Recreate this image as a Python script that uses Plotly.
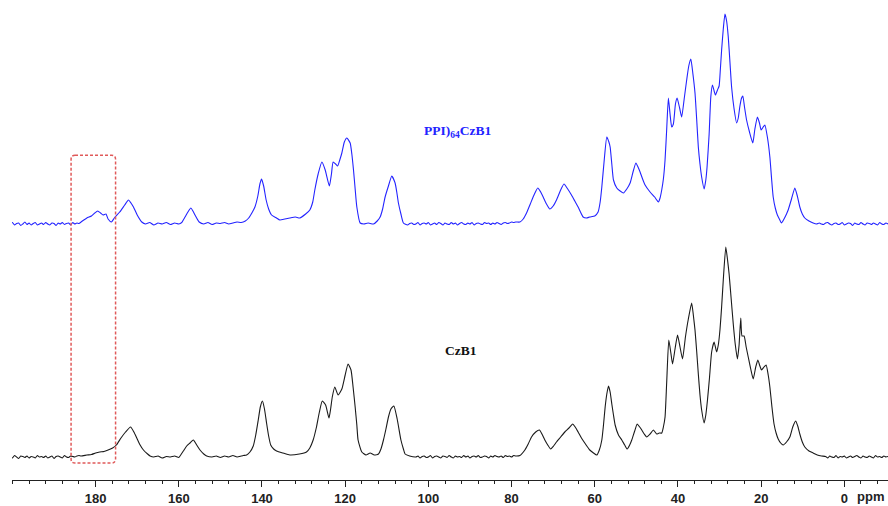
import plotly.graph_objects as go

# ---------------- data (chemical shift in ppm, intensity in arbitrary units) ----------------
ppm_ppi = [
    200.5, 200.0, 199.5, 199.0, 198.5, 198.0, 197.5, 197.0, 196.5, 196.0, 195.5, 195.0, 194.5, 194.0, 193.5, 193.0, 192.5, 192.0,
    191.5, 191.0, 190.5, 190.0, 189.5, 189.0, 188.5, 188.0, 187.5, 187.0, 186.5, 186.0, 185.5, 185.0, 184.5, 184.0, 183.5,
    182.1, 181.0, 180.2, 179.5, 178.8, 178.2, 177.5, 177.0, 176.2, 175.5, 174.2, 173.0, 172.1, 171.5, 170.9, 170.0, 168.9,
    168.0, 167.0, 166.0, 165.0, 164.0, 163.0, 162.0, 161.0, 160.0, 159.3,
    158.5, 157.8, 157.1, 156.6, 156.1, 155.1,
    154.0, 153.0, 152.0, 151.0, 150.0, 149.0, 148.0, 147.0, 146.0, 145.0, 144.0,
    143.2, 142.3, 141.7, 141.0, 140.5, 140.1, 139.6, 139.0, 138.4, 137.7, 136.5, 135.7, 134.5, 133.3, 132.0, 130.9,
    129.5, 128.5, 127.8, 127.3, 126.5, 125.6, 124.8, 123.8, 123.3, 122.9, 122.3, 121.8, 121.3, 120.8, 120.2, 119.6, 118.8, 118.4, 118.0, 117.6, 117.2, 116.4,
    115.5, 114.5, 113.2, 112.3, 111.6, 111.0, 110.4, 109.6, 108.8, 108.0, 107.6, 107.2, 106.6, 106.0,
    105.0, 104.5, 104.0, 103.5, 103.0, 102.5, 102.0, 101.5, 101.0, 100.5, 100.0, 99.5, 99.0, 98.5, 98.0, 97.5, 97.0, 96.5,
    96.0, 95.5, 95.0, 94.5, 94.0, 93.5, 93.0, 92.5, 92.0, 91.5, 91.0, 90.5, 90.0, 89.5, 89.0, 88.5, 88.0, 87.5,
    87.0, 86.5, 86.0, 85.5, 85.0, 84.5, 84.0, 83.5, 83.0, 82.5, 82.0, 81.5, 81.0, 80.5, 80.0, 79.5, 79.0,
    78.0, 77.2, 76.4, 75.5, 74.5, 73.7, 73.0, 72.4, 71.6, 70.8, 70.0, 69.2, 68.3, 67.4, 66.5, 65.6, 64.8, 64.0, 62.8, 62.0, 61.2, 60.0,
    59.2, 58.7, 58.3, 57.7, 57.1, 56.6, 56.3, 55.9, 55.5, 54.7, 53.9, 53.1, 52.3, 51.5, 50.8, 50.1, 49.6, 49.1, 48.5, 47.9, 46.7, 45.6, 44.7,
    44.3, 43.9, 43.5, 43.1, 42.7, 42.3, 41.9, 41.5, 41.1, 40.6, 40.2, 39.6, 39.1, 38.5, 37.9, 37.4, 36.9, 36.4, 35.9, 35.5, 35.1, 34.7, 34.3, 33.7,
    33.3, 33.0, 32.5, 32.1, 31.7, 31.3, 31.0, 30.5, 30.1, 29.8, 29.5, 29.1, 28.7, 28.3, 27.9, 27.5, 27.1, 26.5, 25.9,
    25.5, 25.1, 24.7, 24.4, 24.0, 23.5, 22.8, 22.0, 21.5, 20.9, 20.4, 20.0, 19.5, 19.1, 18.5, 17.9, 17.5, 17.1, 16.6, 16.1, 15.5, 15.1,
    14.5, 13.9, 13.5, 12.7, 11.9, 11.3, 10.7, 10.1, 9.5, 8.5, 7.5, 6.7,
    6.0, 5.5, 5.0, 4.5, 4.0, 3.5, 3.0, 2.5, 2.0, 1.5, 1.0, 0.5, 0.0, -0.5, -1.0, -1.5, -2.0,
    -2.5, -3.0, -3.5, -4.0, -4.5, -5.0, -5.5, -6.0, -6.5, -7.0, -7.5, -8.0, -8.5, -9.0, -9.5, -10.0, -10.5,
]
int_ppi = [
    0, 1.5, -1, 0.5, 1, -1.5, 0, 2, -0.5, 1, -1, 0.5, 1.5, -1, 0, 1, -0.5, 1.5,
    0, -1, 1, 0.5, -1.5, 1, 0, 1.5, -0.5, 0.5, 1, -1, 1.5, 0, 1, 0.5, 2,
    6, 8, 11, 13, 11, 9, 10, 5, 2, 6, 12, 19, 24, 21, 17, 9, 2,
    0, 1.5, -1, 1, 0, 1.5, -0.5, 1, 0, 1.5,
    7, 12, 16, 13, 9, 2,
    0, 1.5, -0.5, 1, 0.5, 1.5, 0, 1, 2, 1.5, 3,
    6, 12, 17, 28, 40, 45, 38, 24, 15, 9, 6, 4, 5, 6, 7, 6,
    10, 14, 22, 34, 50, 62, 54, 38, 50, 62, 60, 58, 64, 71, 82, 86, 81, 70, 54, 35, 17, 1,
    0, 1, 0, 3, 7, 15, 27, 38, 48, 41, 32, 21, 10, 1,
    -1, 0.5, 1, -0.5, 0, 1.5, -1, 0.5, 1, 0, 1.5, -1, 0, 1, -0.5, 1.5, 0.5, -1,
    1, 0, -0.5, 1.5, 0, 1, -1, 0.5, 1.5, 0, -0.5, 1, 0, 1.5, -1, 0.5, 1, 0,
    -0.5, 1.5, 0.5, 1, -0.5, 1, 0, 1.5, 0.5, -0.5, 1, 1.5, 0.5, 1, 2, 1.5, 2,
    2, 5, 11, 20, 30, 36, 32, 27, 20, 15, 18, 24, 33, 40, 35, 29, 23, 17, 7, 6, 7, 8,
    12, 22, 37, 65, 87, 82, 77, 60, 44, 36, 33, 31, 35, 41, 52, 61, 57, 52, 45, 39, 32, 27, 22,
    26, 34, 45, 64, 95, 126, 110, 97, 100, 120, 126, 116, 107, 125, 144, 158, 165, 150, 131, 105, 77, 60, 47, 35,
    44, 57, 90, 127, 139, 133, 129, 134, 138, 155, 174, 195, 210, 203, 187, 162, 137, 115, 101,
    106, 118, 126, 128, 117, 104, 92, 81, 95, 107, 101, 94, 97, 99, 87, 67, 46, 27, 16, 9, 4, 1,
    5, 10, 14, 25, 36, 28, 17, 10, 6, 3, 1, 0,
    1, 0, -0.5, 1, 1.5, 0, -1, 0.5, 1, -0.5, 0, 1.5, -1, 0, 1, 0.5, -1.5,
    1, 0, -0.5, 1.5, 0, -1, 1, 0.5, -0.5, 1, 0, -1, 1.5, 0, -0.5, 1, 0,
]

ppm_czb1 = [
    200.5, 200.0, 199.5, 199.0, 198.5, 198.0, 197.5, 197.0, 196.5, 196.0, 195.5, 195.0, 194.5, 194.0, 193.5, 193.0, 192.5, 192.0,
    191.5, 191.0, 190.5, 190.0, 189.5, 189.0, 188.5, 188.0, 187.5, 187.0, 186.5, 186.0, 185.5, 185.0, 184.5, 184.0, 183.5,
    182.1, 181.0, 180.0, 179.0, 178.0, 177.0, 175.9, 175.0, 173.9, 172.8, 171.6, 170.8, 170.1, 169.3, 168.5, 167.5, 166.9,
    166.0, 165.0, 164.0, 163.0, 162.0, 161.0, 160.0,
    159.7, 158.9, 158.1, 157.3, 156.5, 155.7, 154.9, 154.0, 153.3,
    152, 151, 150, 149, 148, 147, 146, 145, 144.5,
    143.7, 142.9, 142.1, 141.5, 140.9, 140.4, 139.9, 139.4, 138.9, 138.4, 137.9, 137.2, 136.5, 135.0, 133.3, 131.0,
    129.3, 128.5, 127.7, 126.9, 126.2, 125.5, 124.7, 123.9, 123.5, 123.1, 122.5, 121.7, 120.8, 120.0, 119.3, 118.6, 118.1, 117.6, 117.2, 116.9, 116.0,
    115.0, 114.0, 113.0, 112.0, 111.4, 110.8, 110.2, 109.6, 109.0, 108.3, 107.5, 106.6, 106.0, 105.6, 104.5,
    103.0, 102.5, 102.0, 101.5, 101.0, 100.5, 100.0, 99.5, 99.0, 98.5, 98.0, 97.5, 97.0, 96.5, 96.0, 95.5, 95.0,
    94.5, 94.0, 93.5, 93.0, 92.5, 92.0, 91.5, 91.0, 90.5, 90.0, 89.5, 89.0, 88.5, 88.0, 87.5, 87.0,
    86.5, 86.0, 85.5, 85.0, 84.5, 84.0, 83.5, 83.0, 82.5, 82.0, 81.5, 81.0, 80.5, 80.0, 79.5, 79.0,
    78.0, 76.8, 76.0, 75.2, 74.2, 73.3, 72.7, 72.0, 71.3, 70.6, 69.9, 69.2, 68.2, 67.2, 66.2, 65.3, 64.7, 64.0, 63.2, 62.4, 61.2, 60.3, 59.5,
    58.9, 58.3, 57.9, 57.5, 57.1, 56.7, 56.3, 55.9, 55.5, 55.1, 54.3, 53.5, 52.8, 52.2, 51.6, 51.1, 50.4, 49.8, 49.2, 48.7, 48.1, 47.5, 46.7, 45.9, 45.5, 45.1, 44.5, 43.9,
    43.5, 43.1, 42.7, 42.2, 41.7, 41.3, 40.7, 40.1, 39.5, 38.9, 38.2, 37.5, 36.7, 36.3, 35.9, 35.5, 35.1, 34.7, 34.3, 33.7,
    33.3, 32.9, 32.4, 31.9, 31.3, 30.7, 30.3, 29.9, 29.5, 29.1, 28.5, 28.1, 27.7, 27.2, 26.7, 26.2, 25.7,
    25.3, 24.9, 24.6, 24.1, 23.6, 23.1, 22.5, 21.9, 21.3, 20.8, 20.3, 19.9, 19.3, 18.8, 18.3, 17.9, 17.4, 16.9, 16.4, 15.9, 15.3, 14.7,
    13.9, 13.1, 12.4, 11.7, 11.2, 10.7, 10.1, 9.5, 8.5, 7.5, 6.5, 5.5,
    4.5, 4.0, 3.5, 3.0, 2.5, 2.0, 1.5, 1.0, 0.5, 0.0, -0.5, -1.0, -1.5, -2.0, -2.5, -3.0,
    -3.5, -4.0, -4.5, -5.0, -5.5, -6.0, -6.5, -7.0, -7.5, -8.0, -8.5, -9.0, -9.5, -10.0, -10.5,
]
int_czb1 = [
    0, -1, 1.5, 0, -1.5, 1, 0.5, -0.5, 1, -1, 0.5, 0, -1, 1.5, 0, 0.5, -0.5, 1,
    -1, 0, 1, -1.5, 0.5, 1, 0, -1, 1.5, 0, -0.5, 1, 0.5, 0, 1, 1.5, 1,
    2, 2.5, 4, 5, 5.5, 7, 9, 12, 19, 25, 30, 25, 19, 12, 7, 3, 1,
    0, 1, -1, 0.5, 0, 1, -0.5,
    1, 6, 11, 14, 17, 12, 7, 3, 1,
    0, 1, -0.5, 1, 0, 1.5, 0, 1, 1.5,
    2, 5, 11, 22, 37, 50, 56, 48, 34, 21, 12, 8, 6, 4, 2, 3,
    5, 9, 17, 30, 45, 56, 52, 39, 48, 60, 70, 62, 68, 82, 93, 87, 70, 50, 32, 17, 5,
    2, 4, 2, 3, 8, 17, 28, 40, 48, 51, 38, 17, 8, 3, 1,
    0, 1, -1, 0.5, 1, -0.5, 0, 1.5, -1, 0.5, 1, 0, -1, 1, 0.5, -0.5, 1.5,
    0, -1, 1, 0, 0.5, -0.5, 1.5, 0, 1, -1, 0.5, 1, 0, 1.5, -0.5, 0,
    1, 0.5, -1, 1, 0, 1.5, 0.5, 0, 1, -0.5, 1.5, 0.5, 1, 0, 1.5, 1,
    1.5, 7, 13, 20, 25, 27, 23, 17, 12, 8, 11, 15, 20, 25, 29, 33, 30, 25, 19, 14, 7, 4, 2,
    7, 17, 32, 50, 63, 71, 65, 53, 42, 32, 22, 17, 12, 8, 12, 17, 26, 33, 30, 27, 23, 20, 23, 27, 25, 23, 24, 24,
    30, 40, 75, 117, 104, 93, 108, 122, 110, 98, 120, 138, 154, 142, 127, 106, 83, 62, 47, 34,
    42, 57, 80, 105, 115, 105, 112, 127, 150, 177, 210, 198, 183, 158, 133, 112, 98,
    112, 139, 121, 121, 110, 100, 88, 78, 90, 97, 91, 87, 90, 92, 82, 70, 50, 33, 24, 18, 14, 12,
    15, 20, 30, 36, 31, 23, 15, 10, 6, 4, 2, 1,
    0.5, -1, 1, 0, -0.5, 1.5, -1, 0.5, 0, 1, -1, 0, 1, -0.5, 0.5, 1.5,
    0, -1, 1, 0, -0.5, 1, 0, -1, 1.5, 0, 0.5, -0.5, 1, 0, 0.5,
]

tick_vals = [180, 160, 140, 120, 100, 80, 60, 40, 20, 0]
tick_text = ["180", "160", "140", "120", "100", "80", "60", "40", "20", "0"]

label_ppi = "PPI)<sub>64</sub>CzB1"
label_czb1 = "CzB1"
axis_unit = "ppm"

assert len(ppm_ppi) == len(int_ppi), (len(ppm_ppi), len(int_ppi))
assert len(ppm_czb1) == len(int_czb1), (len(ppm_czb1), len(int_czb1))

STACK_OFFSET = 233  # vertical offset of the upper spectrum

fig = go.Figure()
fig.add_trace(go.Scatter(
    x=ppm_ppi, y=[v + STACK_OFFSET for v in int_ppi], mode="lines",
    line=dict(color="#2323ff", width=1.1, shape="spline", smoothing=0.5),
    hoverinfo="skip", showlegend=False))
fig.add_trace(go.Scatter(
    x=ppm_czb1, y=int_czb1, mode="lines",
    line=dict(color="#1a1a1a", width=1.1, shape="spline", smoothing=0.5),
    hoverinfo="skip", showlegend=False))

# red dotted rounded box around the 175-186 ppm region
L, R, T, B = 185.9, 175.2, 301.7, -6.0
dx, dy = 0.95, 4.0
path = (f"M {L-dx},{T} L {R+dx},{T} Q {R},{T} {R},{T-dy} L {R},{B+dy} Q {R},{B} {R+dx},{B} "
        f"L {L-dx},{B} Q {L},{B} {L},{B+dy} L {L},{T-dy} Q {L},{T} {L-dx},{T} Z")
fig.add_shape(type="path", path=path, xref="x", yref="y",
              line=dict(color="#e05a5a", width=1.5, dash="3px,2px"))

serif = "Liberation Serif, Times New Roman, serif"
sans = "Liberation Sans, Arial, sans-serif"
fig.add_annotation(x=93.1, y=326, xref="x", yref="y", text=f"<b>{label_ppi}</b>", showarrow=False,
                   font=dict(family=serif, size=13.5, color="#2323ff"))
fig.add_annotation(x=92.2, y=107, xref="x", yref="y", text=f"<b>{label_czb1}</b>", showarrow=False,
                   font=dict(family=serif, size=13.5, color="#111111"))
fig.add_annotation(x=-6.4, y=-0.0354, xref="x", yref="paper", yanchor="middle",
                   text=f"<b>{axis_unit}</b>", showarrow=False,
                   font=dict(family=sans, size=13, color="#222222"))

fig.update_layout(
    width=888, height=506,
    margin=dict(l=12, r=0, t=0, b=26),
    paper_bgcolor="white", plot_bgcolor="white",
    xaxis=dict(
        range=[200.1, -10.5], showgrid=False, zeroline=False,
        showline=True, linecolor="#222222", linewidth=1,
        ticks="outside", ticklen=6, tickcolor="#222222", tickwidth=1,
        tickmode="array", tickvals=tick_vals, ticktext=tick_text,
        tickfont=dict(family=sans, size=13, color="#222222", weight="bold"),
        minor=dict(dtick=4, tick0=0, ticks="outside", ticklen=3, tickcolor="#222222", tickwidth=1, showgrid=False),
    ),
    yaxis=dict(range=[-23, 457], visible=False, fixedrange=True),
)

fig.write_html("out.html")
